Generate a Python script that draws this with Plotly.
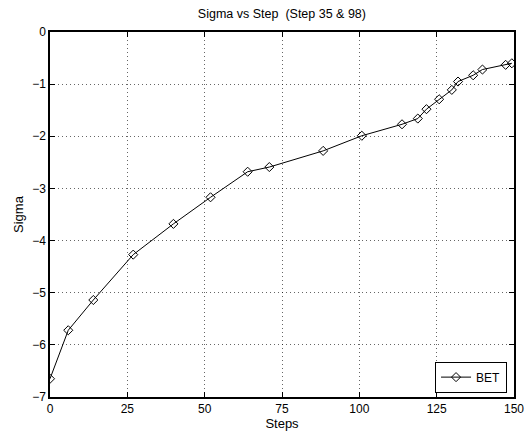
import plotly.graph_objects as go

# Sigma measured at each step
steps = [0, 5.9, 14.0, 26.9, 39.9, 51.9, 63.9, 70.9, 88.3, 100.8, 113.8, 118.9,
         121.7, 125.8, 129.9, 131.9, 136.8, 139.8, 147.3, 149.3]
sigma = [-6.65, -5.72, -5.14, -4.27, -3.68, -3.17, -2.68, -2.59, -2.28, -1.99,
         -1.77, -1.66, -1.48, -1.29, -1.11, -0.95, -0.83, -0.72, -0.63, -0.60]

x_ticks = [0, 25, 50, 75, 100, 125, 150]
y_ticks = [0, -1, -2, -3, -4, -5, -6, -7]

font_family = "Liberation Sans, Arial, sans-serif"

fig = go.Figure()
fig.add_trace(go.Scatter(
    x=steps, y=sigma, name="BET", mode="lines+markers",
    line=dict(color="black", width=1),
    marker=dict(symbol="diamond-open", size=7, color="black", line=dict(width=1)),
))

axis_common = dict(
    showline=True, linecolor="black", linewidth=1.5, mirror="ticks",
    ticks="inside", ticklen=5, tickcolor="black", tickwidth=1,
    showgrid=True, gridcolor="rgba(0,0,0,0.6)", griddash="1px,3px", gridwidth=1,
    zeroline=False, tickfont=dict(size=12, color="black"), automargin=False,
)

fig.update_layout(
    width=525, height=443,
    margin=dict(l=50, r=11, t=32, b=46),
    paper_bgcolor="white", plot_bgcolor="white",
    font=dict(family=font_family, size=12, color="black"),
    title=dict(text="Sigma vs Step  (Step 35 & 98)", x=0.537, xanchor="center",
               y=0.97, yanchor="middle", font=dict(size=12.5)),
    xaxis=dict(range=[0, 150], tickvals=x_ticks,
               title=dict(text="Steps", font=dict(size=13), standoff=2), **axis_common),
    yaxis=dict(range=[-7, 0], tickvals=y_ticks,
               title=dict(text="Sigma", font=dict(size=13), standoff=6), **axis_common),
    showlegend=True,
    legend=dict(x=0.985, y=0.012, xanchor="right", yanchor="bottom",
                bgcolor="white", bordercolor="black", borderwidth=1,
                font=dict(size=12), itemwidth=30, tracegroupgap=0),
)

fig.write_html("out.html")
